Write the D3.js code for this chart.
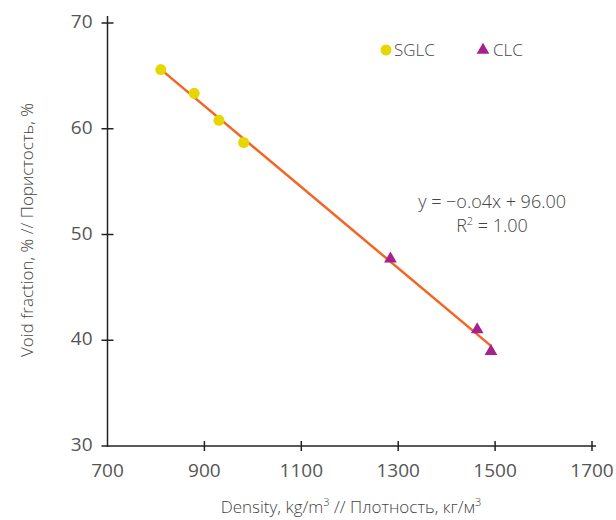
<!DOCTYPE html>
<html lang="en">
  <head>
    <meta charset="utf-8">
    <script src="https://d3js.org/d3.v7.min.js"></script>
    <style>
    body { margin: 0; background: #fff; }
    .tick-label { font-family: "Liberation Sans Narrow", "Open Sans", sans-serif; font-size: 19px; fill: #555; }
    .title { font-family: "Open Sans", sans-serif; font-size: 17px; fill: #444; font-weight: 300; }
    .axis-line { stroke: #222; stroke-width: 1.5px; }
    </style>
    <title>Void fraction vs density</title>
  </head>
  <body>
    <script>
    // chart data
    var xTicks = [700, 900, 1100, 1300, 1500, 1700];
    var yTicks = [30, 40, 50, 60, 70];

    var sglcDensity = [810, 879, 930, 981];
    var sglcVoid = [65.6, 63.35, 60.8, 58.7];

    var clcDensity = [1284, 1463, 1491.5];
    var clcVoid = [47.7, 41.0, 38.95];

    var seriesNames = ["SGLC", "CLC"];
    var equationText = "y = \u2212o.o4x + 96.00";
    var r2Text = "= 1.00";

    var w = 616, h = 520;
    var svg = d3.select("body").append("svg")
      .attr("width", w)
      .attr("height", h);

    var x = d3.scaleLinear().domain([700, 1700]).range([107.5, 592]);
    var y = d3.scaleLinear().domain([30, 70]).range([446, 23]);

    // axes lines
    svg.append("line").attr("class", "axis-line")
      .attr("x1", x(700)).attr("x2", x(1700) + 4)
      .attr("y1", y(30)).attr("y2", y(30));
    svg.append("line").attr("class", "axis-line")
      .attr("x1", x(700)).attr("x2", x(700))
      .attr("y1", y(30) + 1).attr("y2", y(70) - 7);

    // x ticks
    var xt = svg.append("g").selectAll("g").data(xTicks).enter().append("g")
      .attr("transform", function(d) { return "translate(" + x(d) + "," + y(30) + ")"; });
    xt.filter(function(d) { return d != 700; }).append("line").attr("class", "axis-line")
      .attr("y1", -5).attr("y2", 5);
    xt.append("text").attr("class", "tick-label")
      .attr("text-anchor", "middle")
      .attr("y", 31)
      .text(function(d) { return d; });

    // y ticks
    var yt = svg.append("g").selectAll("g").data(yTicks).enter().append("g")
      .attr("transform", function(d) { return "translate(" + x(700) + "," + y(d) + ")"; });
    yt.append("line").attr("class", "axis-line")
      .attr("x1", -6)
      .attr("x2", function(d) { return d == 30 ? 0 : 6; });
    yt.append("text").attr("class", "tick-label")
      .attr("text-anchor", "end")
      .attr("x", -15)
      .attr("y", 5)
      .text(function(d) { return d; });

    // trend line from least squares on all points
    var allX = sglcDensity.concat(clcDensity);
    var allY = sglcVoid.concat(clcVoid);
    var mx = d3.mean(allX), my = d3.mean(allY);
    var sxy = d3.sum(allX, function(v, i) { return (v - mx) * (allY[i] - my); });
    var sxx = d3.sum(allX, function(v) { return (v - mx) * (v - mx); });
    var slope = sxy / sxx, icpt = my - slope * mx;
    var x0 = d3.min(allX), x1 = d3.max(allX);
    svg.append("line")
      .attr("x1", x(x0)).attr("y1", y(slope * x0 + icpt))
      .attr("x2", x(x1)).attr("y2", y(slope * x1 + icpt))
      .attr("stroke", "#f26522")
      .attr("stroke-width", 2.5);

    // points
    svg.append("g").selectAll("circle").data(sglcDensity).enter().append("circle")
      .attr("cx", function(d) { return x(d); })
      .attr("cy", function(d, i) { return y(sglcVoid[i]); })
      .attr("r", 5.5)
      .attr("fill", "#e6d700");

    var tri = d3.symbol().type(d3.symbolTriangle).size(70);
    svg.append("g").selectAll("path").data(clcDensity).enter().append("path")
      .attr("d", tri)
      .attr("transform", function(d, i) { return "translate(" + x(d) + "," + y(clcVoid[i]) + ")"; })
      .attr("fill", "#a6218e");

    // legend
    svg.append("circle").attr("cx", 386).attr("cy", 50).attr("r", 5.5).attr("fill", "#e6d700");
    svg.append("text").attr("class", "title").attr("x", 394).attr("y", 56).text(seriesNames[0]);
    svg.append("path").attr("d", tri).attr("transform", "translate(483,50)").attr("fill", "#a6218e");
    svg.append("text").attr("class", "title").attr("x", 493).attr("y", 56).text(seriesNames[1]);

    // equation
    svg.append("text").attr("class", "title")
      .attr("x", 566).attr("y", 208)
      .attr("text-anchor", "end")
      .style("font-size", "18px")
      .text(equationText);
    var r2 = svg.append("text").attr("class", "title")
      .attr("x", 492).attr("y", 232)
      .attr("text-anchor", "middle")
      .style("font-size", "18px");
    r2.append("tspan").text("R");
    r2.append("tspan").attr("dy", -7).style("font-size", "11px").text("2");
    r2.append("tspan").attr("dy", 7).text(" " + r2Text);

    // axis titles
    var xTitle = svg.append("text").attr("class", "title")
      .attr("x", 351).attr("y", 513)
      .attr("text-anchor", "middle");
    xTitle.append("tspan").text("Density, kg/m");
    xTitle.append("tspan").attr("dy", -7).style("font-size", "11px").text("3");
    xTitle.append("tspan").attr("dy", 7).text(" // Плотность, кг/м");
    xTitle.append("tspan").attr("dy", -7).style("font-size", "11px").text("3");

    svg.append("text").attr("class", "title")
      .attr("transform", "translate(33,230) rotate(-90)")
      .attr("text-anchor", "middle")
      .text("Void fraction, % // Пористость, %");
    </script>
  </body>
</html>
